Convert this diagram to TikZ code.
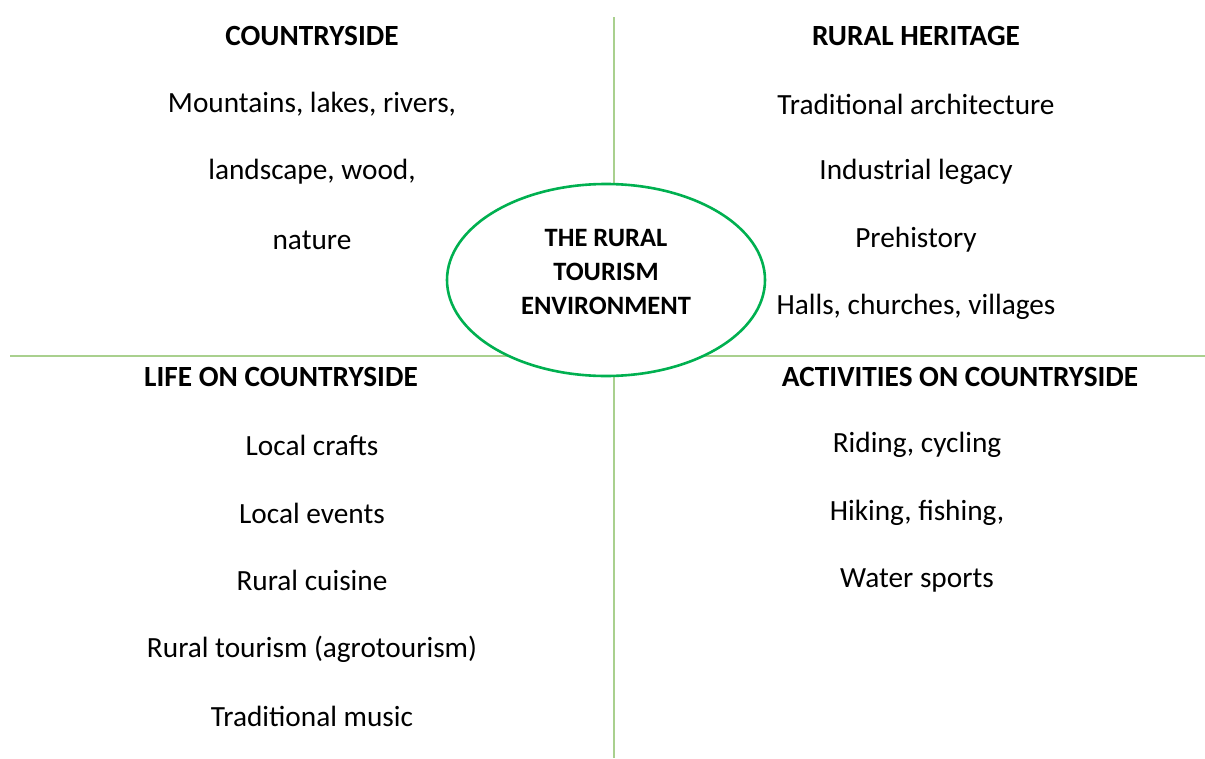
\documentclass[tikz,border=0pt]{standalone}
\usepackage{fontspec}
\setmainfont{Carlito}
\usetikzlibrary{shapes.geometric}
\definecolor{gridgreen}{RGB}{169,208,142}
\definecolor{ellgreen}{RGB}{0,176,80}
\begin{document}
\begin{tikzpicture}[x=1pt,y=-1pt,
  item/.style={font=\fontsize{29.3}{34}\selectfont, inner sep=0pt, anchor=center},
  head/.style={item, font=\fontsize{29.3}{34}\selectfont\bfseries},
  grid/.style={draw=gridgreen, line width=1.3pt}]
\useasboundingbox (0,0) rectangle (1205,758);
\coordinate (vtop) at (614,17);
\coordinate (vbot) at (614,758);
\coordinate (hl) at (10,356);
\coordinate (hr) at (1205,356);
\draw[grid] (vtop) -- (vbot);
\draw[grid] (hl) -- (hr);
\node[ellipse, draw=ellgreen, line width=2.6pt, fill=white, minimum width=318pt, minimum height=192pt, inner sep=0pt] (env) at (606,280) {};
\node[font=\fontsize{26.5}{34}\selectfont\bfseries, align=center, inner sep=0pt] (envt) at (606,272) {THE RURAL\\TOURISM\\ENVIRONMENT};
% countryside
\node[head] (c0) at (312,36) {COUNTRYSIDE};
\node[item] (c1) at (312,104) {Mountains, lakes, rivers,};
\node[item] (c2) at (312,172) {landscape, wood,};
\node[item] (c3) at (312,240) {nature};
% heritage
\node[head] (h0) at (916,36) {RURAL HERITAGE};
\node[item] (h1) at (916,104) {Traditional architecture};
\node[item] (h2) at (916,172) {Industrial legacy};
\node[item] (h3) at (916,240) {Prehistory};
\node[item] (h4) at (916,307) {Halls, churches, villages};
% life
\node[head] (l0) at (281,377) {LIFE ON COUNTRYSIDE};
\node[item] (l1) at (312,445) {Local crafts};
\node[item] (l2) at (312,513) {Local events};
\node[item] (l3) at (312,580) {Rural cuisine};
\node[item] (l4) at (312,649) {Rural tourism (agrotourism)};
\node[item] (l5) at (312,716) {Traditional music};
% activities
\node[head] (a0) at (960,377) {ACTIVITIES ON COUNTRYSIDE};
\node[item] (a1) at (917,445) {Riding, cycling};
\node[item] (a2) at (917,513) {Hiking, fishing,};
\node[item] (a3) at (917,580) {Water sports};
\end{tikzpicture}
\end{document}
